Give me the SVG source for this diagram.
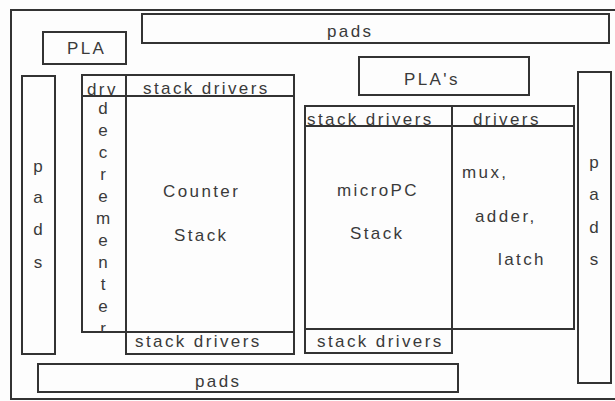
<svg xmlns="http://www.w3.org/2000/svg" width="615" height="401" viewBox="0 0 615 401">
<style>
.b{fill:none;stroke:#333;stroke-width:2}
.l{stroke:#333;stroke-width:2}
text{font-family:"Liberation Sans",Arial,sans-serif;font-size:17px;fill:#3a3a3a;letter-spacing:2.4px}
.v{text-anchor:middle;letter-spacing:0}
</style>
<rect x="0" y="0" width="615" height="401" fill="#fdfdfd"/>
<g id="frame"><rect class="b" x="11" y="10" width="620" height="389"/></g>
<g id="top-pads"><rect class="b" x="142" y="14" width="467" height="29"/><text x="327" y="37">pads</text></g>
<g id="pla"><rect class="b" x="43" y="32" width="83" height="32"/><text x="67" y="54">PLA</text></g>
<g id="plas"><rect class="b" x="359" y="57" width="170" height="38"/><text x="404" y="85">PLA's</text></g>
<g id="left-pads"><rect class="b" x="22" y="76" width="33" height="278"/>
<text class="v" x="38" y="172">p</text><text class="v" x="38" y="203">a</text><text class="v" x="38" y="235">d</text><text class="v" x="38" y="268">s</text></g>
<g id="right-pads"><rect class="b" x="578" y="72" width="33" height="311"/>
<text class="v" x="594" y="168">p</text><text class="v" x="594" y="200">a</text><text class="v" x="594" y="233">d</text><text class="v" x="594" y="265">s</text></g>
<g id="counter-stack">
<rect class="b" x="82" y="75" width="212" height="257"/>
<line class="l" x1="126" y1="75" x2="126" y2="332"/>
<line class="l" x1="82" y1="96" x2="294" y2="96"/>
<text x="87" y="95">drv</text>
<text x="143" y="94">stack drivers</text>
<text class="v" x="103" y="114">d</text><text class="v" x="103" y="136">e</text><text class="v" x="103" y="158">c</text><text class="v" x="103" y="180">r</text><text class="v" x="103" y="202">e</text><text class="v" x="103" y="224">m</text><text class="v" x="103" y="246">e</text><text class="v" x="103" y="268">n</text><text class="v" x="103" y="290">t</text><text class="v" x="103" y="312">e</text>
<text class="v" x="103" y="334" clip-path="url(#c1)">r</text>
<text x="163" y="197">Counter</text>
<text x="174" y="241">Stack</text>
<rect class="b" x="126" y="332" width="168" height="22"/>
<text x="135" y="347">stack drivers</text>
</g>
<defs><clipPath id="c1"><rect x="82" y="300" width="44" height="32"/></clipPath></defs>
<g id="micropc-stack">
<rect class="b" x="305" y="106" width="269" height="223"/>
<line class="l" x1="452" y1="106" x2="452" y2="353"/>
<line class="l" x1="305" y1="126" x2="574" y2="126"/>
<text x="307" y="125">stack drivers</text>
<text x="473" y="125">drivers</text>
<text x="337" y="196">microPC</text>
<text x="350" y="239">Stack</text>
<text x="462" y="178">mux,</text>
<text x="475" y="222">adder,</text>
<text x="498" y="265">latch</text>
<rect class="b" x="305" y="329" width="147" height="24"/>
<text x="317" y="347">stack drivers</text>
</g>
<g id="bottom-pads"><rect class="b" x="38" y="364" width="420" height="28"/><text x="195" y="387">pads</text></g>
<g id="connectors"/>
</svg>
